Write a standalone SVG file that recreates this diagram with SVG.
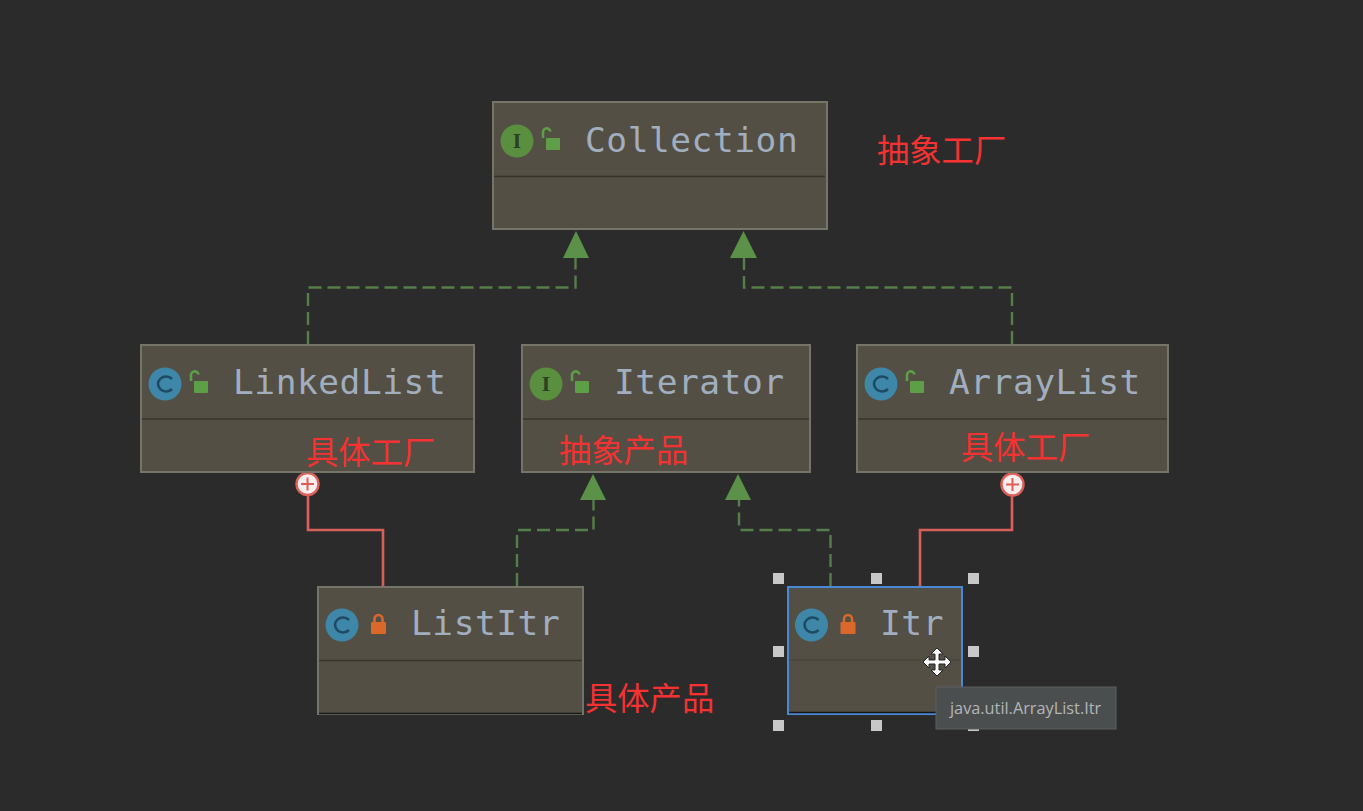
<svg xmlns="http://www.w3.org/2000/svg" width="1363" height="811" viewBox="0 0 1363 811">
<defs>
<style>
.box{fill:#534f44;stroke:#757469;stroke-width:2}
.sep{stroke:#36342c;stroke-width:1.3}
.name{font-family:"DejaVu Sans Mono","Liberation Mono",monospace;font-size:34.5px;letter-spacing:0.55px;fill:#a0aebf}
.note{font-family:"Liberation Sans","Noto Sans CJK SC",sans-serif;font-size:32.3px;fill:#f53232}
.dash{fill:none;stroke:#557f49;stroke-width:2.4;stroke-dasharray:13 6}
.inner{fill:none;stroke:#d8605a;stroke-width:2.6}
.arrow{fill:#5b9148}
.ci{fill:#3f87a8}
.cl{fill:none;stroke:#1f4a63;stroke-width:2.6}
.ii{fill:#5a8f40}
.il{font-family:"DejaVu Serif","Liberation Serif",serif;font-size:18px;font-weight:bold;fill:#2b4025;text-anchor:middle}
.og{fill:#5d9e47}
.ogs{fill:none;stroke:#5d9e47;stroke-width:2.6}
.rl{fill:#d9682a}
.rls{fill:none;stroke:#d9682a;stroke-width:2.6}
.h{fill:#c8c8c8}
.pc{fill:#fbeeee;stroke:#dd5f58;stroke-width:2.4}
.pp{stroke:#dd5f58;stroke-width:2;fill:none}
</style>
<g id="openlock"><path class="ogs" d="M-8 -3v-5a3.800 3.800 0 0 1 7.500 -1.500"/><rect class="og" x="-5" y="-3" width="14" height="12" rx="1"/></g>
<g id="redlock"><path class="rls" d="M-4 -3v-3a4 4 0 0 1 8 0v3"/><rect class="rl" x="-7.500" y="-3" width="15" height="12" rx="1"/></g>
<g id="cicon"><circle class="ci" r="16.500"/><path class="cl" d="M7 -5a8 7.500 0 1 0 0 10"/></g>
<g id="iicon"><circle class="ii" r="16.500"/><text class="il" y="6.500">I</text></g>
</defs>
<rect width="1363" height="811" fill="#2b2b2b"/>
<g id="connectors">
<path class="dash" d="M308 344V287.500H575.500V254"/>
<path class="dash" d="M1012 344V287.500H744V254"/>
<path class="dash" d="M517 586V530H593.500V497"/>
<path class="dash" d="M830.500 586V530H739V497"/>
<path class="inner" d="M308 495V530H383V586"/>
<path class="inner" d="M1012 495V530H920V586"/>
<path class="arrow" d="M576 231L589 258H563Z"/>
<path class="arrow" d="M743.500 231L757 258H730Z"/>
<path class="arrow" d="M593 474L606 500H580Z"/>
<path class="arrow" d="M738 474L751 500H725Z"/>
<circle class="pc" cx="307.500" cy="484" r="11"/><path class="pp" d="M301 484H314M307.500 477.500V490.500"/>
<circle class="pc" cx="1012.500" cy="484.500" r="11"/><path class="pp" d="M1006 484.500H1019M1012.500 478V491"/>
</g>
<g id="collection">
<rect class="box" x="493" y="102" width="334" height="127"/>
<path class="sep" d="M494 176.500H825"/>
<use href="#iicon" x="517" y="141"/><use href="#openlock" x="551" y="141"/>
<text class="name" x="585" y="152">Collection</text>
</g>
<g id="linkedlist">
<rect class="box" x="141" y="345" width="333" height="127"/>
<path class="sep" d="M142 419H473"/>
<use href="#cicon" x="165" y="384"/><use href="#openlock" x="199" y="384"/>
<text class="name" x="233" y="394">LinkedList</text>
</g>
<g id="iterator">
<rect class="box" x="522" y="345" width="288" height="127"/>
<path class="sep" d="M523 419H809"/>
<use href="#iicon" x="546" y="384"/><use href="#openlock" x="580" y="384"/>
<text class="name" x="614" y="394">Iterator</text>
</g>
<g id="arraylist">
<rect class="box" x="857" y="345" width="311" height="127"/>
<path class="sep" d="M858 419H1167"/>
<use href="#cicon" x="881" y="384"/><use href="#openlock" x="915" y="384"/>
<text class="name" x="949" y="394">ArrayList</text>
</g>
<g id="listitr">
<rect class="box" x="318" y="587" width="265" height="127"/>
<path class="sep" d="M319 660.500H582"/>
<path d="M319 713.500H582" stroke="#161616" stroke-width="1.500"/>
<use href="#cicon" x="342" y="625"/><use href="#redlock" x="378.500" y="625"/>
<text class="name" x="411" y="635">ListItr</text>
</g>
<g id="itr">
<rect class="box" x="788" y="587" width="174" height="127" style="stroke:#4a88d8"/>
<path class="sep" d="M789 660H961" style="stroke:#4a473d"/>
<path d="M789 712.500H961" stroke="#161616" stroke-width="1.500"/>
<use href="#cicon" x="811.500" y="625"/><use href="#redlock" x="848" y="625"/>
<text class="name" x="880" y="635">Itr</text>
</g>
<g id="handles">
<rect class="h" x="773" y="573" width="11" height="11"/><rect class="h" x="871" y="573" width="11" height="11"/><rect class="h" x="968" y="573" width="11" height="11"/>
<rect class="h" x="773" y="646" width="11" height="11"/><rect class="h" x="968" y="646" width="11" height="11"/>
<rect class="h" x="773" y="720" width="11" height="11"/><rect class="h" x="871" y="720" width="11" height="11"/><rect class="h" x="968" y="720" width="11" height="11"/>
</g>
<g id="cursor">
<path d="M937 648l6 6h-4v6h6v-4l6 6-6 6v-4h-6v6h4l-6 6-6-6h4v-6h-6v4l-6-6 6-6v4h6v-6h-4z" fill="#fff" stroke="#222" stroke-width="1"/>
</g>
<g id="tooltip">
<rect x="936" y="687" width="180" height="42" fill="#4b4e4f" stroke="#5c5f60"/>
<text x="950" y="714" font-family="'Open Sans','Liberation Sans',sans-serif" font-size="16.300px" fill="#b4b6b6">java.util.ArrayList.Itr</text>
</g>
<g id="notes">
<text class="note" x="877" y="162">抽象工厂</text>
<text class="note" x="306" y="464">具体工厂</text>
<text class="note" x="559" y="462">抽象产品</text>
<text class="note" x="961" y="459">具体工厂</text>
<text class="note" x="585" y="710">具体产品</text>
</g>
</svg>
